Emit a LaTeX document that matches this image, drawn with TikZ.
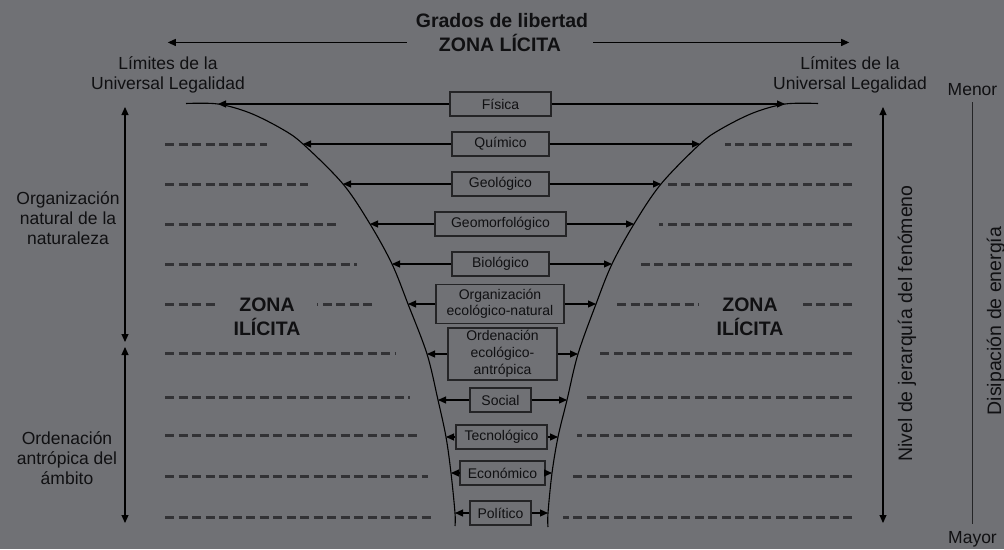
\documentclass[tikz,border=0pt]{standalone}
\usepackage{fontspec}
\setmainfont{Liberation Sans}
\usetikzlibrary{arrows.meta}

\definecolor{bggray}{RGB}{112,113,117}
\definecolor{inkdark}{RGB}{16,16,18}
\definecolor{dashgray}{RGB}{50,50,53}
\definecolor{boxline}{RGB}{36,36,38}

\begin{document}
\begin{tikzpicture}[
    x=1pt, y=-1pt,
    every node/.style={text=inkdark},
    stage/.style={draw=boxline, line width=1.2pt, inner sep=0pt, align=center, minimum height=24pt, font=\fontsize{14}{15.5}\selectfont},
    sidetext/.style={align=center, font=\fontsize{17.5}{20}\selectfont},
    zone/.style={align=center, font=\fontsize{19.5}{24}\selectfont\bfseries},
    axistext/.style={rotate=90, font=\fontsize{19.5}{24}\selectfont},
    arrow/.style={-{Triangle[length=8pt,width=7pt]}, line width=1.1pt},
    twoway/.style={{Triangle[length=8pt,width=7pt]}-{Triangle[length=8pt,width=7pt]}, line width=1.1pt},
    funnel/.style={line width=1.1pt},
    guide/.style={dashgray, line width=3pt, dash pattern=on 9pt off 4.5pt}
]

    % --- Canvas ---
    \useasboundingbox[fill=bggray] (0,0) rectangle (1004,549);

    % --- Title and limits of the licit zone ---
    \node[zone, anchor=base] (gl) at (502,27) {Grados de libertad};
    \node[zone, anchor=base, inner xsep=32pt] (zl) at (500,51) {ZONA LÍCITA};
    \path (zl.west) ++(-239,0) coordinate (limL);
    \path (zl.east) ++(256,0) coordinate (limR);
    \draw[arrow] (zl.west) -- (limL);
    \draw[arrow] (zl.east) -- (limR);

    \node[sidetext] (lul) at (168,75) {Límites de la\\Universal Legalidad};
    \node[sidetext] (lur) at (850,75) {Límites de la\\Universal Legalidad};

    % --- Dashed guide lines (illicit zone) ---
    \foreach \y/\a/\c in {144/267/725, 184/308/663, 224/336/659, 264/357/636,
                          353/395/600, 397/410/586, 435/417/577, 476/428/569, 517/433/563} {
        \draw[guide] (165,\y) -- (\a,\y);
        \draw[guide] (852,\y) -- (\c,\y);
    }
    \draw[guide] (165,304) -- (215,304);
    \draw[guide] (372,304) -- (317,304);
    \draw[guide] (617,304) -- (699,304);
    \draw[guide] (852,304) -- (802,304);

    \node[zone] (zil) at (267,317) {ZONA\\ILÍCITA};
    \node[zone] (zir) at (750,317) {ZONA\\ILÍCITA};

    % --- Phenomenon levels ---
    \foreach \n/\t/\x/\y/\w in {Fis/Física/500.5/104/101, Qui/Químico/500.5/144/97,
                                Geo/Geológico/500.5/184/97, Gmf/Geomorfológico/500.5/224/131,
                                Bio/Biológico/500.5/264/97, Soc/Social/500.5/400/61,
                                Tec/Tecnológico/501.5/437/91, Eco/Económico/502.5/473/85,
                                Pol/Político/500.5/513/61} {
        \node[stage, minimum width=\w pt] (\n) at (\x,\y) {\t};
    }
    \node[stage, minimum width=128pt, minimum height=39pt] (Org) at (500,304) {Organización\\ecológico-natural};
    \node[stage, minimum width=109pt, minimum height=52pt] (Ord) at (502.5,354) {Ordenación\\[1.5pt]ecológico-\\[1.5pt]antrópica};

    % --- Points on the funnel walls ---
    \foreach \n/\y/\l/\r in {Fis/104/218/785, Qui/144/303/700, Geo/184/343/661, Gmf/224/370/634,
                             Bio/264/392/612, Org/304/408/596, Ord/354/427/578, Soc/400/438/567,
                             Tec/437/446/558, Eco/473/451/552, Pol/513/455/548} {
        \coordinate (L\n) at (\l,\y);
        \coordinate (R\n) at (\r,\y);
    }

    % --- Funnel of the Universal Legality ---
    \draw[funnel] plot[smooth, tension=0.55] coordinates {(186,103.5) (LFis) (250,113) (282,129) (LQui) (LGeo)
        (LGmf) (LBio) (LOrg) (LOrd) (LSoc) (LTec) (LEco) (LPol) (455,526)};
    \draw[funnel] plot[smooth, tension=0.55] coordinates {(818,103.5) (RFis) (753,113) (721,129) (RQui) (RGeo)
        (RGmf) (RBio) (ROrg) (ROrd) (RSoc) (RTec) (REco) (RPol) (548,527)};

    \foreach \n in {Fis,Qui,Geo,Gmf,Bio,Org,Ord,Soc,Tec,Eco,Pol} {
        \draw[arrow] (\n.west) -- (L\n);
        \draw[arrow] (\n.east) -- (R\n);
    }

    % --- Left scale ---
    \coordinate (ht) at (125,107);
    \coordinate (hm1) at (125,342);
    \coordinate (hm2) at (125,347);
    \coordinate (hb) at (125,523);
    \draw[twoway] (ht) -- (hm1);
    \draw[twoway] (hm2) -- (hb);
    \node[sidetext] (onat) at (68,218) {Organización\\natural de la\\naturaleza};
    \node[sidetext] (oant) at (67,458) {Ordenación\\antrópica del\\ámbito};

    % --- Right scales ---
    \coordinate (nt) at (883,107);
    \coordinate (nb) at (883,523);
    \draw[twoway] (nt) -- (nb);
    \node[axistext] (nivel) at (907,323.5) {Nivel de jerarquía del fenómeno};

    \node[sidetext, anchor=base, inner sep=7pt] (menor) at (972.5,95) {Menor};
    \node[sidetext, anchor=base, inner sep=7pt] (mayor) at (972.5,543) {Mayor};
    \draw[boxline, line width=1.2pt] (menor) -- (mayor);
    \node[axistext] (disip) at (996,321) {Disipación de energía};
\end{tikzpicture}
\end{document}
